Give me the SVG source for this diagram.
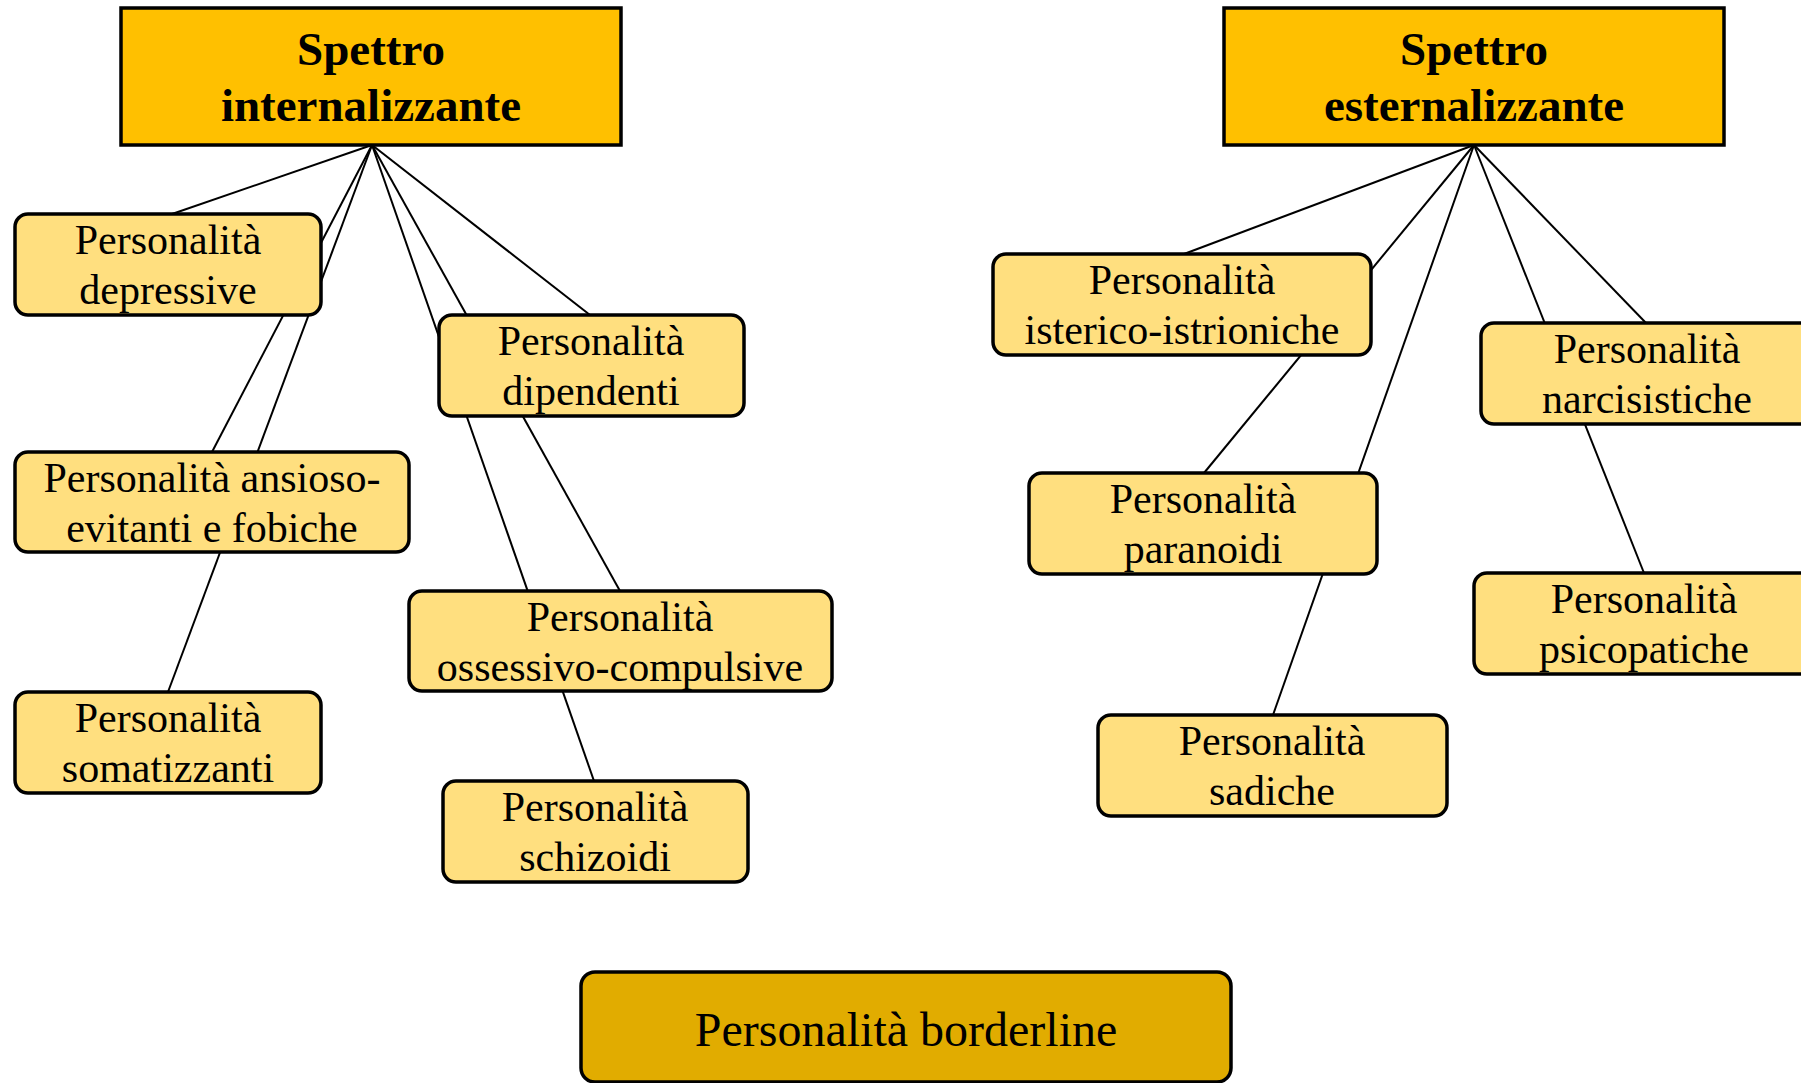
<svg xmlns="http://www.w3.org/2000/svg" width="1801" height="1083" viewBox="0 0 1801 1083">
  <style>
    .hdr { fill: #FFC000; stroke: #000; stroke-width: 3.5; }
    .box { fill: #FFDF7F; stroke: #000; stroke-width: 3.5; }
    .bl { fill: #E1AC00; stroke: #000; stroke-width: 3.5; }
    .ht { font-family: "Liberation Serif", "Times New Roman", serif; font-size: 47px; font-weight: bold; text-anchor: middle; fill: #000; }
    .t { font-family: "Liberation Serif", "Times New Roman", serif; font-size: 42px; text-anchor: middle; fill: #000; }
    .bt { font-family: "Liberation Serif", "Times New Roman", serif; font-size: 48px; text-anchor: middle; fill: #000; }
    .conn line { stroke: #000; stroke-width: 2; }
  </style>
  <rect width="1801" height="1083" fill="#fff"/>

  <!-- connectors from the two spectrum headers -->
  <g id="connectors" class="conn">
    <line x1="372" y1="145" x2="172" y2="214"/>
    <line x1="372" y1="145" x2="212" y2="452"/>
    <line x1="372" y1="145" x2="168" y2="692"/>
    <line x1="372" y1="145" x2="590" y2="315"/>
    <line x1="372" y1="145" x2="620" y2="591"/>
    <line x1="372" y1="145" x2="594" y2="781"/>
    <line x1="1474" y1="145" x2="1184" y2="254"/>
    <line x1="1474" y1="145" x2="1204" y2="473"/>
    <line x1="1474" y1="145" x2="1273" y2="715"/>
    <line x1="1474" y1="145" x2="1646" y2="323"/>
    <line x1="1474" y1="145" x2="1644" y2="573"/>
  </g>

  <!-- headers -->
  <g id="spettro-internalizzante">
    <rect class="hdr" x="121" y="8" width="500" height="137"/>
    <text class="ht" x="371" y="65">Spettro</text>
    <text class="ht" x="371" y="121">internalizzante</text>
  </g>
  <g id="spettro-esternalizzante">
    <rect class="hdr" x="1224" y="8" width="500" height="137"/>
    <text class="ht" x="1474" y="65">Spettro</text>
    <text class="ht" x="1474" y="121">esternalizzante</text>
  </g>

  <!-- internalizing personalities -->
  <g id="depressive">
    <rect class="box" x="15" y="214" width="306" height="101" rx="13"/>
    <text class="t" x="168" y="254">Personalità</text>
    <text class="t" x="168" y="304">depressive</text>
  </g>
  <g id="ansioso-evitanti">
    <rect class="box" x="15" y="452" width="394" height="100" rx="13"/>
    <text class="t" x="212" y="492">Personalità ansioso-</text>
    <text class="t" x="212" y="542">evitanti e fobiche</text>
  </g>
  <g id="somatizzanti">
    <rect class="box" x="15" y="692" width="306" height="101" rx="13"/>
    <text class="t" x="168" y="732">Personalità</text>
    <text class="t" x="168" y="782">somatizzanti</text>
  </g>
  <g id="dipendenti">
    <rect class="box" x="439" y="315" width="305" height="101" rx="13"/>
    <text class="t" x="591" y="355">Personalità</text>
    <text class="t" x="591" y="405">dipendenti</text>
  </g>
  <g id="ossessivo-compulsive">
    <rect class="box" x="409" y="591" width="423" height="100" rx="13"/>
    <text class="t" x="620" y="631">Personalità</text>
    <text class="t" x="620" y="681">ossessivo-compulsive</text>
  </g>
  <g id="schizoidi">
    <rect class="box" x="443" y="781" width="305" height="101" rx="13"/>
    <text class="t" x="595" y="821">Personalità</text>
    <text class="t" x="595" y="871">schizoidi</text>
  </g>

  <!-- externalizing personalities -->
  <g id="isterico-istrioniche">
    <rect class="box" x="993" y="254" width="378" height="101" rx="13"/>
    <text class="t" x="1182" y="294">Personalità</text>
    <text class="t" x="1182" y="344">isterico-istrioniche</text>
  </g>
  <g id="narcisistiche">
    <rect class="box" x="1481" y="323" width="332" height="101" rx="13"/>
    <text class="t" x="1647" y="363">Personalità</text>
    <text class="t" x="1647" y="413">narcisistiche</text>
  </g>
  <g id="paranoidi">
    <rect class="box" x="1029" y="473" width="348" height="101" rx="13"/>
    <text class="t" x="1203" y="513">Personalità</text>
    <text class="t" x="1203" y="563">paranoidi</text>
  </g>
  <g id="psicopatiche">
    <rect class="box" x="1474" y="573" width="340" height="101" rx="13"/>
    <text class="t" x="1644" y="613">Personalità</text>
    <text class="t" x="1644" y="663">psicopatiche</text>
  </g>
  <g id="sadiche">
    <rect class="box" x="1098" y="715" width="349" height="101" rx="13"/>
    <text class="t" x="1272" y="755">Personalità</text>
    <text class="t" x="1272" y="805">sadiche</text>
  </g>

  <!-- borderline -->
  <g id="borderline">
    <rect class="bl" x="581" y="972" width="650" height="110" rx="14"/>
    <text class="bt" x="906" y="1046">Personalità borderline</text>
  </g>
</svg>
